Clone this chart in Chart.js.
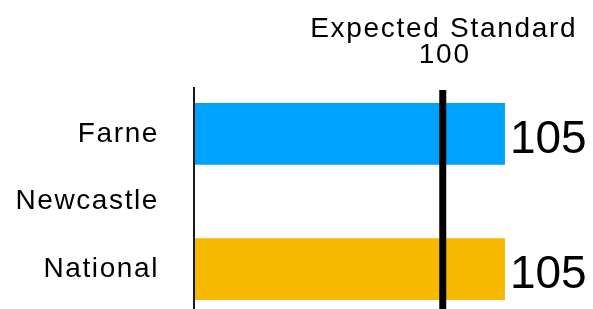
<!DOCTYPE html>
<html>
<head>
<meta charset="utf-8">
<script src="https://cdn.jsdelivr.net/npm/chart.js@4"></script>
<style>
  html, body { margin: 0; padding: 0; background: #fff; }
  #chart { display: block; }
</style>
</head>
<body>
<canvas id="chart" width="593" height="309"></canvas>
<script>
// chart data
const categories = ["Farne", "Newcastle", "National"];
const scores = [105, null, 105];
const barColors = ["rgb(0, 162, 255)", "rgb(0, 162, 255)", "rgb(246, 185, 0)"];
const expectedStandard = 100;
const expectedLabel = ["Expected Standard", String(expectedStandard)];
const scaleMin = 80;
const scaleMax = 112;

const FONT = '"Liberation Sans", Arial, Helvetica, sans-serif';

// Lines, value labels and the expected standard caption
const overlayPlugin = {
  id: "overlay",
  beforeDraw(chart) {
    chart.ctx.letterSpacing = "1.6px";
  },
  afterDatasetsDraw(chart) {
    const ctx = chart.ctx;
    const x = chart.scales.x;
    const area = chart.chartArea;

    ctx.save();
    // axis line
    ctx.strokeStyle = "#1a1a1a";
    ctx.lineWidth = 2;
    ctx.beginPath();
    ctx.moveTo(area.left, 87);
    ctx.lineTo(area.left, chart.height);
    ctx.stroke();

    // expected standard line
    const refX = x.getPixelForValue(expectedStandard);
    ctx.strokeStyle = "#000";
    ctx.lineWidth = 7;
    ctx.beginPath();
    ctx.moveTo(refX, 90);
    ctx.lineTo(refX, chart.height);
    ctx.stroke();

    // caption above line
    ctx.fillStyle = "#000";
    ctx.font = "28px " + FONT;
    ctx.textAlign = "center";
    ctx.textBaseline = "alphabetic";
    ctx.letterSpacing = "1.7px";
    ctx.fillText(expectedLabel[0], refX + 1, 37);
    ctx.fillText(expectedLabel[1], refX + 2, 63);

    // value labels
    ctx.font = "46px " + FONT;
    ctx.textAlign = "left";
    ctx.letterSpacing = "0px";
    const meta = chart.getDatasetMeta(0);
    meta.data.forEach((bar, i) => {
      if (scores[i] == null) return;
      ctx.fillText(String(scores[i]), bar.x + 5, bar.y + 19);
    });
    ctx.restore();
  }
};

new Chart(document.getElementById("chart"), {
  type: "bar",
  data: {
    labels: categories,
    datasets: [{
      data: scores,
      backgroundColor: barColors,
      borderWidth: 0,
      barPercentage: 0.915,
      categoryPercentage: 1
    }]
  },
  options: {
    indexAxis: "y",
    responsive: false,
    animation: false,
    layout: { autoPadding: false, padding: { top: 100, bottom: 6, left: 0, right: 1 } },
    plugins: {
      legend: { display: false },
      title: { display: false },
      tooltip: { enabled: false }
    },
    scales: {
      x: {
        display: false,
        min: scaleMin,
        max: scaleMax
      },
      y: {
        afterFit(scale) {
          scale.width = 194;
          scale.paddingTop = 0;
          scale.paddingBottom = 0;
        },
        grid: { display: false, drawTicks: false },
        border: { display: false },
        ticks: {
          color: "#000",
          padding: 35,
          font: { family: FONT, size: 28 }
        }
      }
    }
  },
  plugins: [overlayPlugin]
});
</script>
</body>
</html>
